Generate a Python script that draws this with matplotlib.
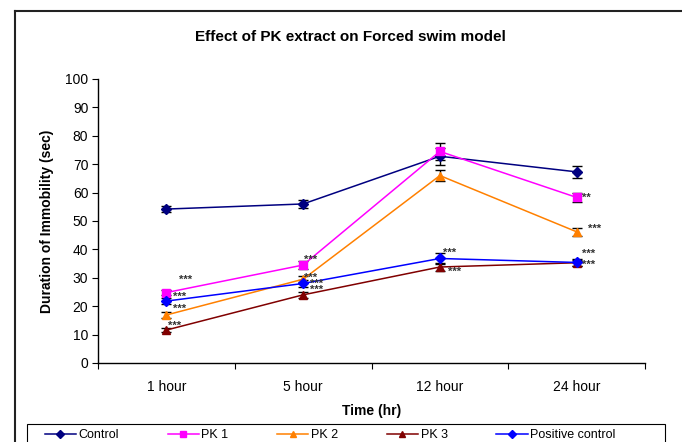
import matplotlib
matplotlib.use("Agg")
import matplotlib.pyplot as plt
from matplotlib.lines import Line2D
from matplotlib.patches import Rectangle

plt.rcParams['font.family'] = ['Liberation Sans', 'DejaVu Sans']

categories = ["1 hour", "5 hour", "12 hour", "24 hour"]
control = [54.2, 56.0, 72.8, 67.3]
pk1 = [24.8, 34.5, 74.5, 58.3]
pk2 = [16.9, 29.5, 66.0, 46.2]
pk3 = [11.6, 24.0, 33.8, 35.3]
positive = [21.8, 28.0, 36.8, 35.4]

err_control = [1.2, 1.5, 3.0, 2.0]
err_pk1 = [1.0, 1.5, 3.0, 1.5]
err_pk2 = [1.0, 1.0, 2.0, 1.5]
err_pk3 = [0.8, 1.0, 1.5, 1.0]
err_positive = [1.2, 1.2, 2.0, 1.2]

# significance labels: (category index, x offset, y value, text)
sig_labels = [
    (0, 0.09, 29.4, "***"), (0, 0.05, 23.4, "***"), (0, 0.05, 19.0, "***"), (0, 0.01, 13.2, "***"),
    (1, 0.01, 36.3, "***"), (1, 0.01, 30.0, "***"), (1, 0.05, 27.9, "***"), (1, 0.05, 25.6, "***"),
    (2, 0.02, 38.7, "***"), (2, 0.06, 32.0, "***"),
    (3, 0.04, 58.3, "**"), (3, 0.08, 47.3, "***"), (3, 0.04, 38.6, "***"), (3, 0.04, 34.5, "***"),
]

series = [
    ("Control", control, err_control, "#000080", "D"),
    ("PK 1", pk1, err_pk1, "#FF00FF", "s"),
    ("PK 2", pk2, err_pk2, "#FF8000", "^"),
    ("PK 3", pk3, err_pk3, "#800000", "^"),
    ("Positive control", positive, err_positive, "#0000FF", "D"),
]

fig = plt.figure(figsize=(6.82, 4.42), dpi=100)
ax = fig.add_axes([98/682, 1-363/442, (645-98)/682, (363-79)/442])

x = list(range(len(categories)))
handles = []
for name, vals, errs, color, mk in series:
    ms = 5.5 if mk == "D" else 6
    ax.errorbar(x, vals, yerr=errs, fmt='none', ecolor='black', elinewidth=1,
                capsize=3.5, capthick=1, zorder=2)
    ax.plot(x, vals, color=color, marker=mk, markersize=ms, linewidth=1.1, zorder=3)
    handles.append(Line2D([], [], color=color, marker=mk, markersize=4, linewidth=1.1, label=name))

for ci, dx, yv, txt in sig_labels:
    ax.text(ci + dx, yv, txt, fontsize=8, color='#333333', fontweight='bold', va='center', ha='left', zorder=4)

ax.set_xlim(-0.5, 3.5)
ax.set_ylim(0, 100)
ax.set_yticks(range(0, 101, 10))
ax.set_xticks([i - 0.5 for i in range(5)])
ax.set_xticklabels([])
ax.set_xticks(x, minor=True)
ax.set_xticklabels(categories, minor=True)
ax.tick_params(axis='x', which='minor', length=0, pad=12, labelsize=10)
ax.tick_params(axis='x', which='major', length=4, direction='out')
ax.tick_params(axis='y', length=4, direction='out', labelsize=10, pad=3)
for s in ['top', 'right']:
    ax.spines[s].set_visible(False)
ax.spines['left'].set_linewidth(1)
ax.spines['bottom'].set_linewidth(1)

ax.set_ylabel("Duration of Immobility (sec)", fontsize=10, fontweight='bold', labelpad=8)
fig.text(372/682, 1-411/442, "Time (hr)", ha='center', va='center', fontsize=10, fontweight='bold')
fig.text(350/682, 1-37/442, "Effect of PK extract on Forced swim model", ha='center', va='center',
         fontsize=11, fontweight='bold')

# outer frame
fig.add_artist(Line2D([15/682, 15/682], [0, 1-11/442], transform=fig.transFigure, color='#222222', linewidth=1.5))
fig.add_artist(Line2D([15/682, 1], [1-11/442, 1-11/442], transform=fig.transFigure, color='#222222', linewidth=1.5))

# legend frame
fig.add_artist(Rectangle((27/682, -0.05), (665-27)/682, 1-424/442+0.05, transform=fig.transFigure,
                         fill=False, edgecolor='black', linewidth=0.8))

leg = fig.legend(handles=handles, loc='upper center', ncol=5,
                 bbox_to_anchor=(330/682, 1-427/442),
                 borderaxespad=0.0, frameon=False, fontsize=9,
                 handlelength=2.5, handletextpad=0.2, borderpad=0.15, columnspacing=3.9)

fig.savefig("out.png", dpi=100)
